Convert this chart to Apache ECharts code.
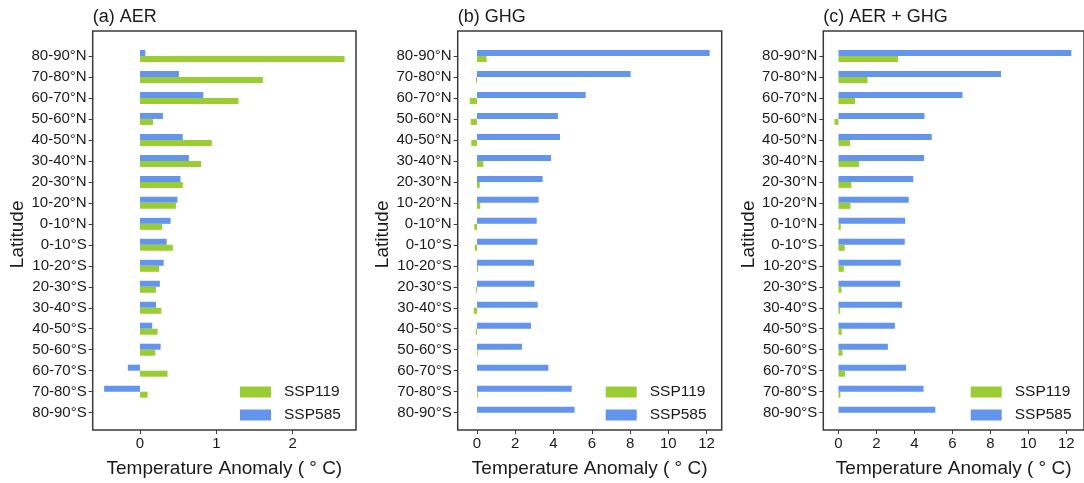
<!DOCTYPE html>
<html lang="en">
<head>
    <meta charset="UTF-8">
    <title>latitude_anomaly</title>
    <script src="https://cdn.jsdelivr.net/npm/echarts@6/dist/echarts.min.js"></script>
    <style>
        body { margin: 0; background: #fff; }
    </style>
</head>
<body>
<div id="main" style="width:1084px;height:483px;"></div>
<script>
    // latitude bands, north to south
    var latitudes = ['80-90°N', '70-80°N', '60-70°N', '50-60°N', '40-50°N', '30-40°N', '20-30°N', '10-20°N', '0-10°N',
        '0-10°S', '10-20°S', '20-30°S', '30-40°S', '40-50°S', '50-60°S', '60-70°S', '70-80°S', '80-90°S'];

    // (a) AER
    var aerSsp119 = [2.68, 1.61, 1.29, 0.17, 0.94, 0.80, 0.56, 0.47, 0.29, 0.43, 0.25, 0.21, 0.28, 0.23, 0.20, 0.36, 0.10, 0];
    var aerSsp585 = [0.07, 0.51, 0.83, 0.30, 0.56, 0.64, 0.53, 0.49, 0.40, 0.35, 0.31, 0.26, 0.21, 0.16, 0.27, -0.16, -0.47, 0];
    // (b) GHG
    var ghgSsp119 = [0.50, -0.06, -0.38, -0.33, -0.30, 0.33, 0.14, 0.17, -0.14, -0.12, 0.05, -0.05, -0.17, -0.06, 0.04, 0.01, 0.04, 0.01];
    var ghgSsp585 = [12.16, 8.03, 5.68, 4.23, 4.34, 3.87, 3.43, 3.22, 3.12, 3.15, 2.98, 3.00, 3.17, 2.82, 2.35, 3.73, 4.95, 5.10];
    // (c) AER + GHG
    var allSsp119 = [3.14, 1.53, 0.87, -0.21, 0.61, 1.09, 0.68, 0.63, 0.12, 0.33, 0.28, 0.16, 0.09, 0.17, 0.21, 0.35, 0.10, 0.01];
    var allSsp585 = [12.26, 8.56, 6.53, 4.53, 4.91, 4.51, 3.94, 3.70, 3.51, 3.49, 3.28, 3.25, 3.35, 2.97, 2.60, 3.56, 4.48, 5.10];

    var ticksA = [0, 1, 2];
    var ticksBC = [0, 2, 4, 6, 8, 10, 12];

    var green = '#9acd32';
    var blue = '#6495ed';
    var frameColor = '#3a3a3a';
    var textColor = '#1a1a1a';
    var font = 'Liberation Sans, Arial, sans-serif';

    // panel layout: left edge, width, x range, ticks, title
    var panels = [
        {left: 92.7, width: 263.3, min: -0.62, max: 2.83, ticks: ticksA, title: '(a) AER', s119: aerSsp119, s585: aerSsp585, legendLeft: 240},
        {left: 457.7, width: 264, min: -1.01, max: 12.79, ticks: ticksBC, title: '(b) GHG', s119: ghgSsp119, s585: ghgSsp585, legendLeft: 605.7},
        {left: 823.3, width: 264, min: -0.8, max: 12.93, ticks: ticksBC, title: '(c) AER + GHG', s119: allSsp119, s585: allSsp585, legendLeft: 970.7}
    ];

    var frameTop = 31, frameHeight = 407;
    var band = 20.98;
    var innerTop = 56 - band / 2, innerHeight = band * latitudes.length;

    var grid = [], xAxis = [], yAxis = [], series = [], title = [], legend = [];

    panels.forEach(function (p, i) {
        // outer frame grid (box + x axis)
        grid.push({left: p.left, top: frameTop, width: p.width, height: frameHeight,
            show: true, borderColor: frameColor, borderWidth: 1.5, backgroundColor: 'transparent'});
        // inner grid for the categories
        grid.push({left: p.left, top: innerTop, width: p.width, height: innerHeight});

        xAxis.push({
            type: 'value', gridIndex: 2 * i, min: p.min, max: p.max,
            name: 'Temperature Anomaly ( ° C)', nameLocation: 'middle', nameGap: 29,
            nameTextStyle: {fontSize: 19, color: textColor, fontFamily: font},
            axisLine: {show: false},
            axisTick: {show: true, length: 4, customValues: p.ticks, lineStyle: {color: frameColor}},
            axisLabel: {customValues: p.ticks, fontSize: 15, color: textColor, fontFamily: font, margin: 6},
            splitLine: {show: false}
        });
        xAxis.push({type: 'value', gridIndex: 2 * i + 1, min: p.min, max: p.max, show: false});

        yAxis.push({type: 'value', gridIndex: 2 * i, show: false, min: 0, max: 1});
        yAxis.push({
            type: 'category', gridIndex: 2 * i + 1, inverse: true, data: latitudes,
            name: 'Latitude', nameLocation: 'middle', nameGap: 65,
            nameTextStyle: {fontSize: 19, color: textColor, fontFamily: font},
            axisLine: {show: false, onZero: false},
            axisTick: {show: true, length: 4, alignWithLabel: true, lineStyle: {color: frameColor}},
            axisLabel: {fontSize: 15, color: textColor, fontFamily: font, margin: 6},
            splitLine: {show: false}
        });

        series.push({
            name: 'SSP585', type: 'bar', xAxisIndex: 2 * i + 1, yAxisIndex: 2 * i + 1,
            data: p.s585, barWidth: 6, barGap: '0%', itemStyle: {color: blue}
        });
        series.push({
            name: 'SSP119', type: 'bar', xAxisIndex: 2 * i + 1, yAxisIndex: 2 * i + 1,
            data: p.s119, barWidth: 6, barGap: '0%', itemStyle: {color: green}
        });

        title.push({text: p.title, left: p.left, top: 8, padding: 0,
            textStyle: {fontSize: 18, fontWeight: 'normal', color: textColor, fontFamily: font}});

        legend.push({
            data: ['SSP119', 'SSP585'], orient: 'vertical', left: p.legendLeft, top: 384,
            padding: 0, itemWidth: 31, itemHeight: 11, itemGap: 7, icon: 'rect',
            textStyle: {fontSize: 15.5, color: textColor, fontFamily: font, padding: [0, 0, 0, 8]}
        });
    });

    var chart = echarts.init(document.getElementById('main'));
    chart.setOption({
        animation: false,
        title: title,
        legend: legend,
        grid: grid,
        xAxis: xAxis,
        yAxis: yAxis,
        series: series
    });
</script>
</body>
</html>
